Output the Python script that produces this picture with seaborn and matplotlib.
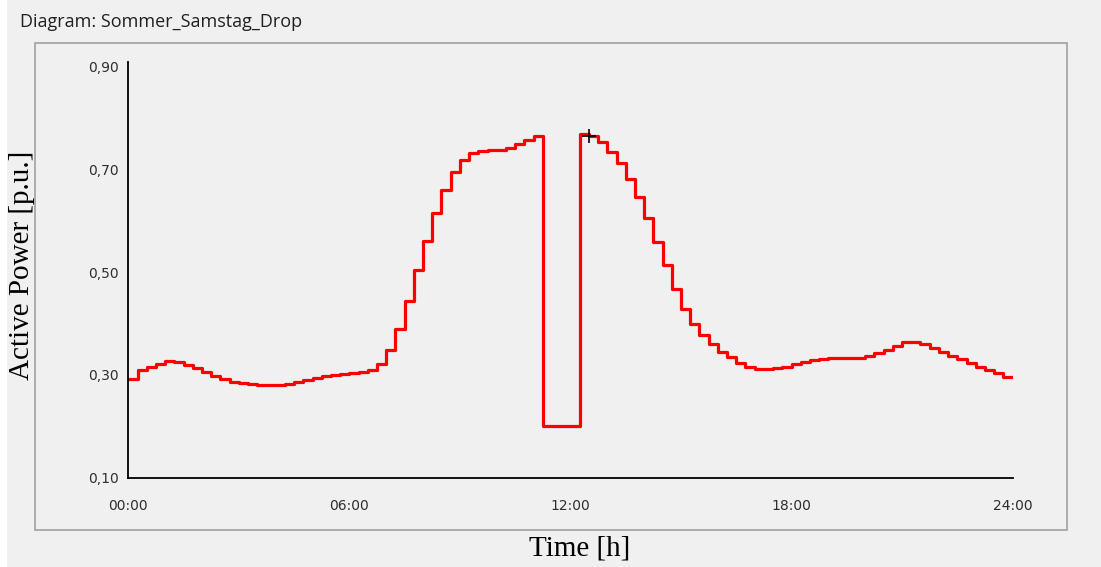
import numpy as np
import pandas as pd
import matplotlib
matplotlib.use("Agg")
import matplotlib.pyplot as plt
from matplotlib.patches import Rectangle
import seaborn as sns

# Quarter-hour active power profile (p.u.), 96 intervals over one day
power = [
    0.292, 0.309, 0.316, 0.322, 0.326, 0.325, 0.320, 0.313,
    0.305, 0.298, 0.292, 0.287, 0.284, 0.282, 0.281, 0.280,
    0.281, 0.283, 0.286, 0.290, 0.294, 0.297, 0.300, 0.302,
    0.304, 0.305, 0.310, 0.321, 0.348, 0.389, 0.444, 0.503,
    0.561, 0.614, 0.659, 0.694, 0.717, 0.731, 0.735, 0.737,
    0.738, 0.742, 0.749, 0.757, 0.765, 0.200, 0.200, 0.200,
    0.200, 0.769, 0.765, 0.752, 0.733, 0.712, 0.681, 0.646,
    0.605, 0.559, 0.513, 0.467, 0.428, 0.399, 0.378, 0.360,
    0.345, 0.334, 0.324, 0.316, 0.311, 0.311, 0.313, 0.316,
    0.321, 0.325, 0.328, 0.331, 0.333, 0.333, 0.333, 0.333,
    0.337, 0.342, 0.348, 0.357, 0.363, 0.364, 0.360, 0.353,
    0.345, 0.337, 0.330, 0.324, 0.316, 0.310, 0.303, 0.296,
]
interval_hours = 0.25
cursor_index = 50

x_ticks = [0, 6, 12, 18, 24]
x_ticklabels = ["00:00", "06:00", "12:00", "18:00", "24:00"]
y_ticks = [0.10, 0.30, 0.50, 0.70, 0.90]
y_ticklabels = ["0,10", "0,30", "0,50", "0,70", "0,90"]

title = "Diagram: Sommer_Samstag_Drop"
x_label = "Time [h]"
y_label = "Active Power [p.u.]"

bg = "#f0f0f0"
sns.set_style("white", {"axes.facecolor": bg, "figure.facecolor": bg})
plt.rcParams["font.family"] = ["DejaVu Sans"]

# step profile: repeat the last value so the final interval reaches 24:00
hours = np.arange(len(power) + 1) * interval_hours
df = pd.DataFrame({"hour": hours, "power": power + [power[-1]]})

fig = plt.figure(figsize=(11.01, 5.67), dpi=100)
fig.patch.set_facecolor(bg)
ax = fig.add_axes([128.3 / 1101, 1 - 477.7 / 567, (1012.6 - 128.3) / 1101, (477.7 - 61.7) / 567])
ax.set_facecolor(bg)

sns.lineplot(data=df, x="hour", y="power", ax=ax, drawstyle="steps-post",
             color="#ff0000", linewidth=2.3, estimator=None, sort=False)

# cursor marker on the curve
ax.plot(hours[cursor_index], power[cursor_index], marker="+", color="black",
        markersize=10, markeredgewidth=1.2, zorder=5)

ax.set_xlim(0, 24)
ax.set_ylim(0.10, 0.909)
ax.set_xticks(x_ticks)
ax.set_xticklabels(x_ticklabels)
ax.set_yticks(y_ticks)
ax.set_yticklabels(y_ticklabels)
ax.tick_params(axis="both", length=0, labelsize=10, labelcolor="#2e2e2e")
ax.tick_params(axis="x", pad=15)
ax.tick_params(axis="y", pad=7)

for side in ["top", "right"]:
    ax.spines[side].set_visible(False)
for side in ["left", "bottom"]:
    ax.spines[side].set_color("black")
    ax.spines[side].set_linewidth(1.3)

ax.set_xlabel("")
ax.set_ylabel("")

# panel frame around the diagram
fig.patches.append(Rectangle((35 / 1101, 1 - 530 / 567), (1067 - 35) / 1101, (530 - 43) / 567,
                             transform=fig.transFigure, fill=False,
                             edgecolor="#a0a0a0", linewidth=1.2))
fig.patches.append(Rectangle((0, 0), 7 / 1101, 1, transform=fig.transFigure,
                             facecolor="white", edgecolor="none"))

fig.text(20 / 1101, 1 - 22 / 567, title, fontsize=13, color="#202020",
         family=["Open Sans", "DejaVu Sans"], ha="left", va="center")
fig.text(580 / 1101, 1 - 548 / 567, x_label, fontsize=21, family=["Liberation Serif"],
         ha="center", va="center", color="black")
fig.text(22 / 1101, 1 - 265 / 567, y_label, fontsize=21, family=["Liberation Serif"],
         ha="center", va="center", rotation=90, color="black")

fig.savefig("out.png", dpi=100, facecolor=bg)
